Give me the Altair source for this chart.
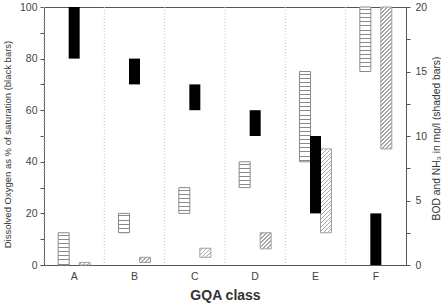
import altair as alt
import pandas as pd

# ---- data ----
cats = ["A", "B", "C", "D", "E", "F"]
do_lo = [80, 70, 60, 50, 20, 0]          # Dissolved oxygen, % saturation
do_hi = [100, 80, 70, 60, 50, 20]
bod_lo = [0, 2.5, 4, 6, 8, 15]           # BOD, mg/l
bod_hi = [2.5, 4, 6, 8, 15, 20]
nh3_lo = [0, 0.2, 0.6, 1.25, 2.5, 9]     # NH3, mg/l
nh3_hi = [0.2, 0.6, 1.3, 2.5, 9, 20]

# ---- layout ----
W, H = 362, 258
BAR_W = 11
FONT = "Liberation Sans"
R_MAX = 20.0

# outer slots only widen the gap at the band edges
series_domain = ["_l", "BOD", "DO", "NH3", "_r"]

x_scale = alt.Scale(domain=cats, paddingInner=0, paddingOuter=0)
x_axis = alt.Axis(title="GQA class", ticks=False, labelAngle=0, labelPadding=6,
                  titleFontSize=14, titleFontWeight="bold", titlePadding=7,
                  titleColor="#333", labelFontSize=10.5)
xoff = alt.XOffset("series:N",
                   scale=alt.Scale(domain=series_domain, paddingInner=0, paddingOuter=0.373))


def hline_gradient(h, period=4.1, lw=1.0, bg="white", fg="#8a8a8a"):
    stops = [(0.0, bg)]
    y = period / 2
    while y < h:
        a = y / h
        b = min((y + lw) / h, 1.0)
        stops += [(a, bg), (a, fg), (b, fg), (b, bg)]
        y += period
    stops.append((1.0, bg))
    return alt.LinearGradient(gradient="linear", x1=0, y1=0, x2=0, y2=1,
                              stops=[alt.GradientStop(offset=o, color=c) for o, c in stops])


def diag_gradient(h, w=BAR_W, period=4.0, lw=1.4, bg="white", fg="#a8a8a8"):
    h = max(h, 0.5)
    total = w + h
    k = w * (w + h) / (w * w + h * h)
    stops = [(0.0, bg)]
    s = period / 2
    while s < total:
        a = s / total
        b = min((s + lw) / total, 1.0)
        stops += [(a, bg), (a, fg), (b, fg), (b, bg)]
        s += period
    stops.append((1.0, bg))
    return alt.LinearGradient(gradient="linear", x1=0, y1=0, x2=k, y2=k * h / w,
                              stops=[alt.GradientStop(offset=o, color=c) for o, c in stops])


right_axis = alt.Axis(orient="right", values=[i * 2.5 for i in range(9)],
                      labelExpr="datum.value % 5 == 0 ? format(datum.value, 'd') : ''",
                      tickSize=4, labelPadding=5,
                      title="BOD and NH\u2083 in mg/l (shaded bars)",
                      titleAngle=270, titleBaseline="top", titleX=25, titleY=131,
                      titleFontSize=10.3, titleFontWeight="normal", titleColor="#333")
right_y = alt.Y("lo:Q", scale=alt.Scale(domain=[0, R_MAX], nice=False), axis=right_axis)

left_axis = alt.Axis(orient="left", values=list(range(0, 101, 10)),
                     labelExpr="datum.value % 20 == 0 ? datum.label : ''",
                     tickSize=4, labelPadding=3,
                     title="Dissolved Oxygen as % of saturation (black bars)",
                     titleX=-32, titleY=137, titleBaseline="bottom",
                     titleFontSize=9.5, titleFontWeight="normal", titleColor="#333")

# grid rules between classes
grid = alt.Chart(pd.DataFrame({"cat": cats})).mark_rule(
    strokeDash=[1, 2], color="#c4c4c4", strokeWidth=1
).encode(x=alt.X("cat:N", bandPosition=0, scale=x_scale, axis=x_axis))

# hatched bars, one layer per bar (hatch spacing depends on bar height)
hatch_layers = []
for i, c in enumerate(cats):
    for name, lo, hi, grad_fn, stroke in [
        ("BOD", bod_lo, bod_hi, hline_gradient, "#8a8a8a"),
        ("NH3", nh3_lo, nh3_hi, diag_gradient, "#a0a0a0"),
    ]:
        h_px = (hi[i] - lo[i]) / R_MAX * H
        df = pd.DataFrame({"cat": [c], "series": [name], "lo": [lo[i]], "hi": [hi[i]]})
        hatch_layers.append(
            alt.Chart(df).mark_bar(width=BAR_W, fill=grad_fn(h_px), stroke=stroke,
                                   strokeWidth=1)
            .encode(x=alt.X("cat:N", scale=x_scale, axis=x_axis), xOffset=xoff,
                    y=right_y, y2="hi")
        )
hatched = alt.layer(*hatch_layers)

do_df = pd.DataFrame({"cat": cats, "series": ["DO"] * len(cats), "lo": do_lo, "hi": do_hi})
do_bars = alt.Chart(do_df).mark_bar(width=BAR_W, color="black").encode(
    x=alt.X("cat:N", scale=x_scale, axis=x_axis), xOffset=xoff,
    y=alt.Y("lo:Q", scale=alt.Scale(domain=[0, 100], nice=False), axis=left_axis),
    y2="hi",
)

chart = (
    alt.layer(grid, hatched, do_bars)
    .resolve_scale(y="independent")
    .properties(width=W, height=H,
                padding={"left": 44, "top": 7, "right": 35, "bottom": 39},
                autosize=alt.AutoSizeParams(type="none"))
    .configure_view(stroke="#555", strokeWidth=1)
    .configure_axis(labelFont=FONT, titleFont=FONT, labelFontSize=10.5,
                    labelColor="#444", tickColor="#555", domainColor="#555",
                    grid=False)
)

chart.save("out.html", embed_options={"renderer": "svg", "actions": False})
